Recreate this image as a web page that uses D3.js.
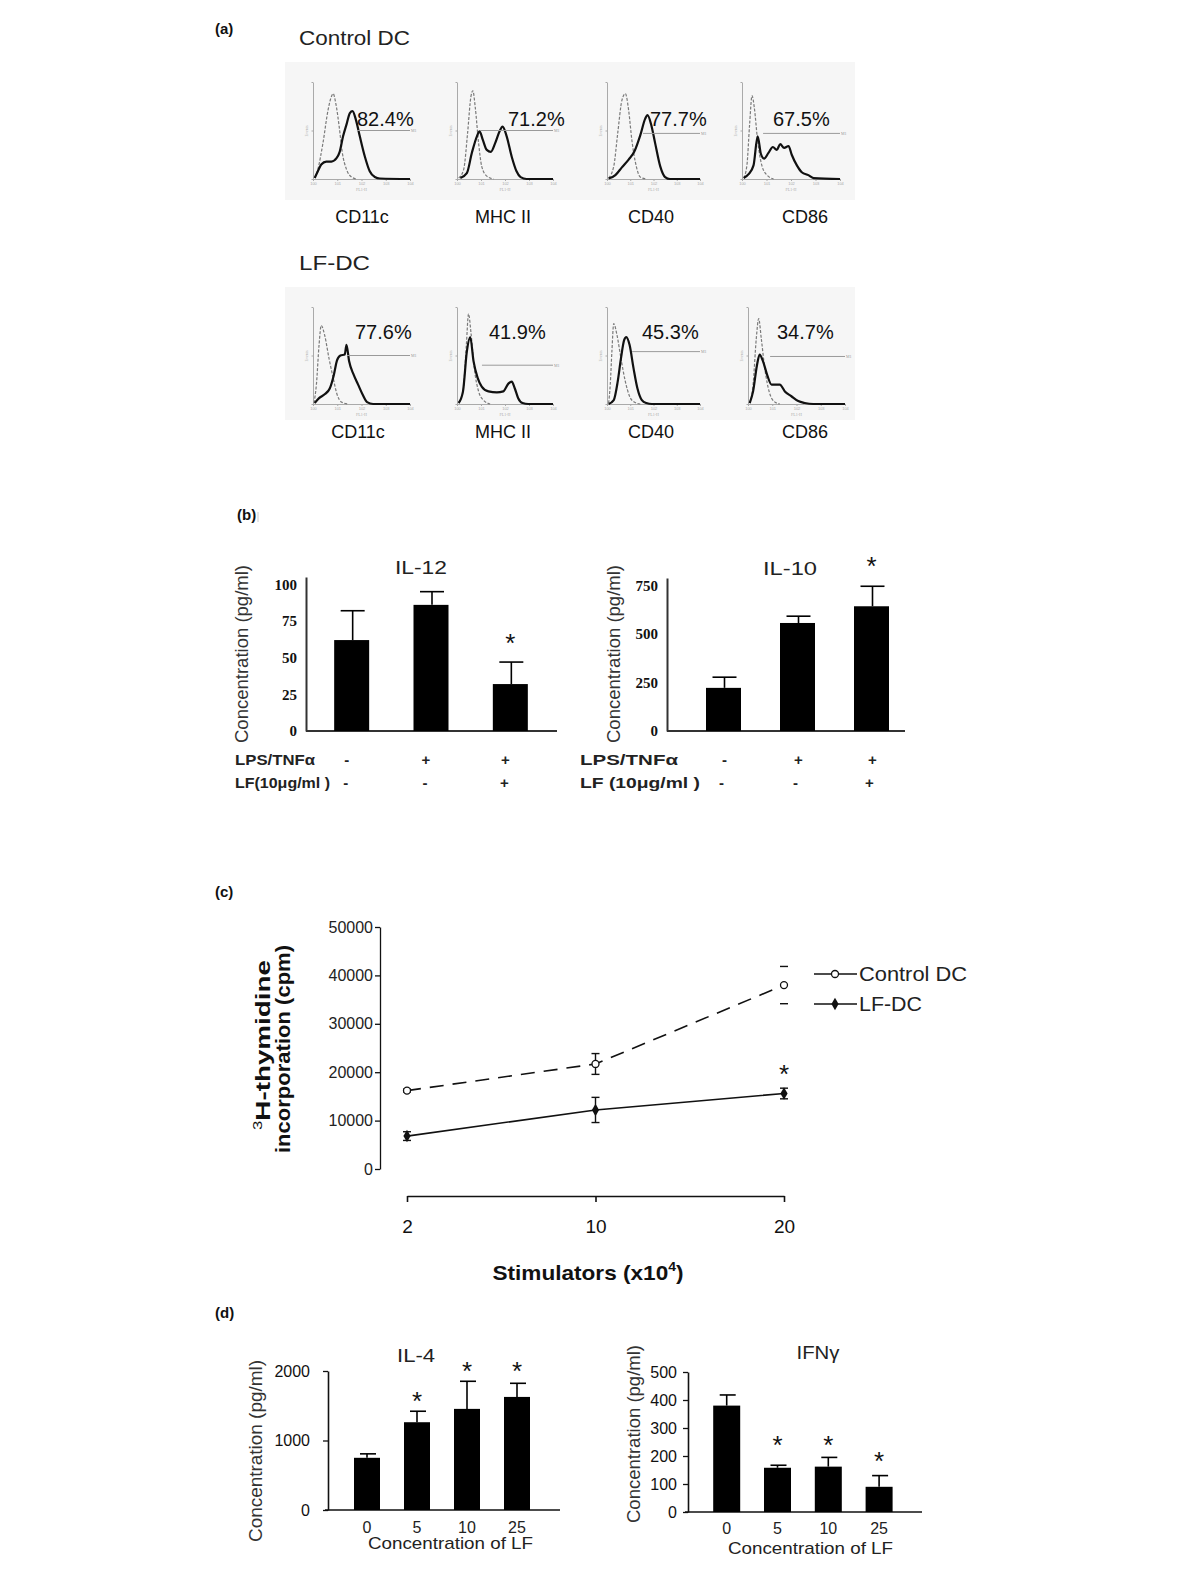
<!DOCTYPE html>
<html>
<head>
<meta charset="utf-8">
<script src="https://cdn.jsdelivr.net/npm/d3@7"></script>
<style>
  body { margin: 0; background: #fff; }
</style>
</head>
<body>
<script>
// ---------- panel (a): flow histograms, x in log decades (0-4), y in % of peak ----------
var markerNames = ["CD11c", "MHC II", "CD40", "CD86"];
var ctrlPercent = ["82.4%", "71.2%", "77.7%", "67.5%"];
var lfPercent = ["77.6%", "41.9%", "45.3%", "34.7%"];

var ctrlIso = [
    [[0.07,1],[0.2,10],[0.41,37],[0.62,71],[0.76,85],[0.83,88],[0.94,78],[1.08,54],[1.21,27],[1.38,10],[1.59,2],[1.8,0]],
    [[0.07,1],[0.28,10],[0.44,47],[0.58,85],[0.66,91],[0.76,74],[0.9,37],[1.03,13],[1.24,3],[1.52,0]],
    [[0.07,1],[0.29,13],[0.46,47],[0.64,81],[0.79,88],[0.93,71],[1.07,40],[1.26,13],[1.43,2],[1.71,0]],
    [[0.07,1],[0.2,14],[0.31,56],[0.41,86],[0.5,74],[0.64,39],[0.81,14],[1.02,4],[1.29,0]]
];
var ctrlStain = [
    [[0.07,1],[0.2,8],[0.34,15],[0.55,18],[0.76,18],[0.97,21.5],[1.1,28],[1.24,44],[1.38,56],[1.52,68],[1.63,70],[1.77,61],[1.93,44],[2.14,23],[2.34,8],[2.55,2],[2.76,0.5],[4,0]],
    [[0.14,1],[0.41,6],[0.62,27],[0.83,44],[0.94,49],[1.08,40],[1.24,30],[1.41,28],[1.59,37],[1.77,49],[1.9,54],[2.07,44],[2.28,23],[2.48,8],[2.65,2],[2.9,0],[4,0]],
    [[0.07,0.5],[0.36,4],[0.64,12],[0.93,20],[1.17,28],[1.43,45],[1.64,62],[1.74,66],[1.89,57],[2.07,37],[2.29,13],[2.5,2],[2.71,0],[4,0]],
    [[0.07,1],[0.27,5],[0.47,14],[0.64,44],[0.77,26],[0.9,21],[1.08,27],[1.26,33],[1.42,30],[1.56,36],[1.72,32],[1.9,34],[2.03,25],[2.24,14],[2.44,7],[2.71,4],[2.92,1],[4,0]]
];
var lfIso = [
    [[0.04,1],[0.14,20],[0.25,61],[0.34,81],[0.48,71],[0.66,47],[0.83,27],[0.99,10],[1.17,2],[1.45,0]],
    [[0.07,1],[0.25,13],[0.39,61],[0.48,93],[0.58,74],[0.72,37],[0.9,13],[1.1,4],[1.38,0]],
    [[0.07,1],[0.14,20],[0.21,54],[0.29,83],[0.43,71],[0.6,47],[0.79,23],[0.97,8],[1.17,2],[1.43,0]],
    [[0.07,1],[0.21,20],[0.34,67],[0.44,88],[0.55,67],[0.69,37],[0.87,13],[1.06,3],[1.31,0]]
];
var lfStain = [
    [[0.07,1],[0.25,6],[0.48,10],[0.69,16],[0.86,30],[0.99,45],[1.13,50],[1.31,51],[1.38,61],[1.49,44],[1.68,30],[1.86,20],[2.04,10],[2.23,2],[2.48,0],[4,0]],
    [[0.07,1],[0.25,13],[0.41,54],[0.55,69],[0.69,44],[0.86,27],[1.03,18],[1.31,13],[1.66,12],[1.93,13],[2.14,21],[2.28,23],[2.41,16],[2.55,6],[2.73,1],[2.97,0],[4,0]],
    [[0.07,0],[0.29,4],[0.46,23],[0.6,47],[0.74,66],[0.83,69],[0.97,61],[1.14,37],[1.31,16],[1.5,4],[1.69,1],[1.93,0],[4,0]],
    [[0.07,1],[0.21,13],[0.37,40],[0.48,51],[0.62,44],[0.79,30],[0.97,20],[1.14,20],[1.31,20],[1.52,13],[1.79,8],[2.07,3],[2.34,1],[2.69,0],[4,0]]
];
// gate marker: [start decade, height %]
var ctrlGate = [[1.81,50],[0.96,50],[1.55,47],[0.86,47]];
var lfGate = [[1.4,50],[1.04,40],[1.08,54],[0.91,49]];

// ---------- panel (b) ----------
var treatCats = ["ctrl", "lps", "lpslf"];
var lpsSigns = ["-", "+", "+"];
var lfSigns = ["-", "-", "+"];
var il12Mean = [62, 86, 32];
var il12Err = [20, 9, 15];
var il12Star = [null, null, 64];
var il12Ticks = [0, 25, 50, 75, 100];
var il10Mean = [222, 556, 642];
var il10Err = [55, 35, 103];
var il10Star = [null, null, 880];
var il10Ticks = [0, 250, 500, 750];

// ---------- panel (c) ----------
var stimulators = ["2", "10", "20"];
var ctrlCpm = [16200, 21700, 38000];
var ctrlCpmErr = [300, 2150, 3850];
var lfCpm = [6800, 12200, 15600];
var lfCpmErr = [900, 2600, 1100];
var lfCpmStar = [null, null, 20900];
var cpmTicks = [0, 10000, 20000, 30000, 40000, 50000];

// ---------- panel (d) ----------
var lfDoses = ["0", "5", "10", "25"];
var il4Mean = [751, 1263, 1455, 1627];
var il4Err = [57, 158, 397, 196];
var il4Star = [null, 1650, 2080, 2080];
var il4Ticks = [0, 1000, 2000];
var ifnMean = [380, 158, 162, 90];
var ifnErr = [38, 9, 33, 40];
var ifnStar = [null, 262, 262, 204];
var ifnTicks = [0, 100, 200, 300, 400, 500];

var SANS = "'Liberation Sans', Arial, Helvetica, sans-serif";
var SERIF = "'Liberation Serif', 'Times New Roman', serif";
var plain = d3.format("d");

var svg = d3.select("body").append("svg")
    .attr("width", 1200).attr("height", 1576)
    .style("display", "block").style("background", "#fff");

function addText(x, y, s, size, o) {
    o = o || {};
    var t = svg.append("text").attr("x", x).attr("y", y)
        .attr("font-family", o.family || SANS)
        .attr("font-size", size)
        .attr("font-weight", o.weight || "normal")
        .attr("text-anchor", o.anchor || "start")
        .attr("fill", o.fill || "#111");
    if (o.len) t.attr("textLength", o.len).attr("lengthAdjust", "spacingAndGlyphs");
    if (o.rotate) t.attr("transform", "rotate(-90," + x + "," + y + ")");
    t.text(s);
    return t;
}

// significance star centred on (x, y)
function star(x, y) {
    addText(x, y + 15, "*", 26, {anchor: "middle", fill: "#111"});
}

// panel letters
addText(215, 34, "(a)", 15, {weight: "bold"});
addText(237, 520, "(b)", 15, {weight: "bold"});
addText(215, 897, "(c)", 15, {weight: "bold"});
addText(215, 1318, "(d)", 15, {weight: "bold"});
svg.append("line").attr("x1", 258).attr("x2", 258).attr("y1", 512).attr("y2", 522)
    .attr("stroke", "#ccc").attr("stroke-width", 1);

/* ===================== (a) histograms ===================== */
addText(299, 45, "Control DC", 21, {fill: "#222", len: 111});
addText(299, 270, "LF-DC", 21, {fill: "#222", len: 71});

svg.append("rect").attr("x", 285).attr("y", 62).attr("width", 570).attr("height", 138).attr("fill", "#f6f6f6");
svg.append("rect").attr("x", 285).attr("y", 287).attr("width", 570).attr("height", 133).attr("fill", "#f6f6f6");

function histRow(top, base, cols, iso, stain, gates, pcts, pctX, pctBase, labelX, labelBase) {
    cols.forEach(function(c, i) {
        var x = d3.scaleLinear().domain([0, 4]).range(c);
        var y = d3.scaleLinear().domain([0, 100]).range([base, top]);
        var g = svg.append("g");

        var ax = g.append("g").attr("transform", "translate(0," + base + ")")
            .call(d3.axisBottom(x).tickValues([0, 1, 2, 3, 4]).tickSize(2).tickSizeOuter(0)
                .tickFormat(function(d) { return "10" + d; }));
        ax.select(".domain").attr("stroke", "#aaa");
        ax.selectAll(".tick line").attr("stroke", "#aaa");
        ax.selectAll(".tick text").attr("font-size", 4).attr("fill", "#aaa").attr("dy", "0.2em");

        var ay = g.append("g").attr("transform", "translate(" + c[0] + ",0)")
            .call(d3.axisLeft(y).tickValues([0, 50, 100]).tickSize(1.5).tickSizeOuter(0).tickFormat(""));
        ay.select(".domain").attr("stroke", "#aaa");
        ay.selectAll(".tick line").attr("stroke", "#aaa");

        g.append("text").attr("x", (c[0] + c[1]) / 2).attr("y", base + 12)
            .attr("text-anchor", "middle").attr("font-size", 4).attr("fill", "#aaa").text("FL1-H");
        g.append("text").attr("transform", "translate(" + (c[0] - 5) + "," + (base - 48) + ") rotate(-90)")
            .attr("text-anchor", "middle").attr("font-size", 4).attr("fill", "#aaa").text("Events");

        var line = d3.line()
            .x(function(d) { return x(d[0]); })
            .y(function(d) { return y(d[1]); })
            .curve(d3.curveMonotoneX);

        g.append("path").datum(iso[i]).attr("d", line)
            .attr("fill", "none").attr("stroke", "#7a7a7a").attr("stroke-width", 1.2)
            .attr("stroke-dasharray", "3,1.6");
        g.append("path").datum(stain[i]).attr("d", line)
            .attr("fill", "none").attr("stroke", "#111").attr("stroke-width", 2.2)
            .attr("stroke-linejoin", "round");

        // marker gate
        g.append("line").attr("x1", x(gates[i][0])).attr("x2", x(4))
            .attr("y1", y(gates[i][1])).attr("y2", y(gates[i][1]))
            .attr("stroke", "#9a9a9a").attr("stroke-width", 1);
        g.append("text").attr("x", x(4) + 1).attr("y", y(gates[i][1]) + 1.5)
            .attr("font-size", 4).attr("fill", "#999").text("M1");

        addText(pctX[i], pctBase, pcts[i], 20, {fill: "#111"});
        addText(labelX[i], labelBase, markerNames[i], 18, {anchor: "middle", fill: "#111"});
    });
}

histRow(82, 179, [[313, 410], [457, 553], [607, 700], [742, 840]],
    ctrlIso, ctrlStain, ctrlGate, ctrlPercent,
    [357, 508, 650, 773], 126, [362, 503, 651, 805], 223);
histRow(307, 404, [[313, 410], [457, 553], [607, 700], [748, 845]],
    lfIso, lfStain, lfGate, lfPercent,
    [355, 489, 642, 777], 339, [358, 503, 651, 805], 438);

/* ===================== bar chart helper ===================== */
function barChart(o) {
    var y = d3.scaleLinear().domain(o.yDomain).range([o.base, o.top]);
    var x = d3.scaleBand().domain(o.cats).range(o.band);
    var g = svg.append("g");

    var ay = g.append("g").attr("transform", "translate(" + o.axisX + ",0)")
        .call(d3.axisLeft(y).tickValues(o.ticks).tickFormat(plain)
            .tickSizeInner(o.tickLen).tickSizeOuter(0).tickPadding(o.pad));
    ay.select(".domain").attr("stroke", o.axisColor).attr("stroke-width", o.axisW);
    ay.selectAll(".tick line").attr("stroke", o.axisColor).attr("stroke-width", 1.3);
    ay.selectAll(".tick text")
        .attr("font-family", o.tickFamily).attr("font-size", o.tickSize)
        .attr("font-weight", o.tickWeight).attr("fill", "#111");

    g.append("line").attr("x1", o.axisX - o.xAxisLeft).attr("x2", o.xEnd)
        .attr("y1", o.base).attr("y2", o.base)
        .attr("stroke", o.axisColor).attr("stroke-width", o.axisW);

    var cx = function(i) { return x(o.cats[i]) + x.bandwidth() / 2; };

    g.selectAll("rect.bar").data(o.mean).enter().append("rect")
        .attr("class", "bar")
        .attr("x", function(d, i) { return cx(i) - o.barW / 2; })
        .attr("y", function(d) { return y(d); })
        .attr("width", o.barW)
        .attr("height", function(d) { return o.base - y(d); })
        .attr("fill", "#000");

    g.selectAll("line.err").data(o.mean).enter().append("line")
        .attr("class", "err")
        .attr("x1", function(d, i) { return cx(i) + o.stemDx; })
        .attr("x2", function(d, i) { return cx(i) + o.stemDx; })
        .attr("y1", function(d) { return y(d); })
        .attr("y2", function(d, i) { return y(d + o.err[i]); })
        .attr("stroke", "#000").attr("stroke-width", 1.6);
    g.selectAll("line.cap").data(o.mean).enter().append("line")
        .attr("class", "cap")
        .attr("x1", function(d, i) { return cx(i) + o.cap[0]; })
        .attr("x2", function(d, i) { return cx(i) + o.cap[1]; })
        .attr("y1", function(d, i) { return y(d + o.err[i]); })
        .attr("y2", function(d, i) { return y(d + o.err[i]); })
        .attr("stroke", "#000").attr("stroke-width", 1.6);

    o.star.forEach(function(s, i) {
        if (s == null) return;
        star(cx(i), y(s));
    });
    return cx;
}

/* ===================== (b) ===================== */
var il12cx = barChart({
    yDomain: [0, 105], base: 731, top: 577, ticks: il12Ticks, axisX: 306,
    tickLen: 0, pad: 9, tickFamily: SERIF, tickSize: 15, tickWeight: "bold",
    axisColor: "#333", axisW: 2, xAxisLeft: 0, xEnd: 557,
    cats: treatCats, band: [312, 550], barW: 35, mean: il12Mean, err: il12Err,
    stemDx: 1, cap: [-11, 13], star: il12Star
});
var il10cx = barChart({
    yDomain: [0, 787.5], base: 731, top: 578, ticks: il10Ticks, axisX: 667,
    tickLen: 0, pad: 9, tickFamily: SERIF, tickSize: 15, tickWeight: "bold",
    axisColor: "#333", axisW: 2, xAxisLeft: 0, xEnd: 905,
    cats: treatCats, band: [686.5, 908.5], barW: 35, mean: il10Mean, err: il10Err,
    stemDx: 1, cap: [-11, 13], star: il10Star
});

addText(421, 574, "IL-12", 19, {anchor: "middle", fill: "#222", len: 52});
addText(790, 575, "IL-10", 19, {anchor: "middle", fill: "#222", len: 54});
addText(247.5, 654, "Concentration (pg/ml)", 18, {anchor: "middle", fill: "#333", rotate: true, len: 178});
addText(619.5, 654, "Concentration (pg/ml)", 18, {anchor: "middle", fill: "#333", rotate: true, len: 178});

addText(235, 765, "LPS/TNFα", 14, {weight: "bold", fill: "#222", len: 80});
addText(235, 788, "LF(10μg/ml )", 14, {weight: "bold", fill: "#222", len: 95});
addText(580, 765, "LPS/TNFα", 14, {weight: "bold", fill: "#222", len: 98});
addText(580, 788, "LF (10μg/ml )", 14, {weight: "bold", fill: "#222", len: 120});
lpsSigns.forEach(function(s, i) {
    addText(il12cx(i) - 5, 765, s, 15, {anchor: "middle", weight: "bold", fill: "#222"});
    addText(il10cx(i) + 1, 765, s, 15, {anchor: "middle", weight: "bold", fill: "#222"});
});
lfSigns.forEach(function(s, i) {
    addText(il12cx(i) - 6, 788, s, 15, {anchor: "middle", weight: "bold", fill: "#222"});
    addText(il10cx(i) - 2, 788, s, 15, {anchor: "middle", weight: "bold", fill: "#222"});
});

/* ===================== (c) ===================== */
var xc = d3.scalePoint().domain(stimulators).range([407, 784]);
var yc = d3.scaleLinear().domain([0, 50000]).range([1169, 927]);

var ayc = svg.append("g").attr("transform", "translate(380,0)")
    .call(d3.axisLeft(yc).tickValues(cpmTicks).tickFormat(plain)
        .tickSizeInner(5).tickSizeOuter(0).tickPadding(2));
ayc.select(".domain").attr("stroke", "#111").attr("stroke-width", 1.3);
ayc.selectAll(".tick line").attr("stroke", "#111").attr("stroke-width", 1.3);
ayc.selectAll(".tick text").attr("font-family", SANS).attr("font-size", 16).attr("fill", "#222");

var axc = svg.append("g").attr("transform", "translate(0,1196)")
    .call(d3.axisBottom(xc).tickSizeInner(6).tickSizeOuter(0).tickPadding(18));
axc.select(".domain").attr("stroke", "#111").attr("stroke-width", 1.6);
axc.selectAll(".tick line").attr("stroke", "#111").attr("stroke-width", 1.6);
axc.selectAll(".tick text").attr("font-family", SANS).attr("font-size", 19).attr("fill", "#111");

var stimT = addText(588, 1280, "", 21, {anchor: "middle", weight: "bold", fill: "#111", len: 191});
stimT.append("tspan").text("Stimulators (x10");
stimT.append("tspan").attr("font-size", 13).attr("dy", -9).text("4");
stimT.append("tspan").attr("dy", 9).text(")");

var yt1 = addText(270, 1045, "", 20, {anchor: "middle", weight: "bold", fill: "#111", rotate: true, len: 170});
yt1.append("tspan").attr("font-size", 12).attr("dy", -8).attr("font-weight", "normal").text("3");
yt1.append("tspan").attr("dy", 8).text("H-thymidine");
addText(290, 1049, "incorporation (cpm)", 20, {anchor: "middle", weight: "bold", fill: "#111", rotate: true, len: 208});

var lineC = d3.line()
    .x(function(d, i) { return xc(stimulators[i]); })
    .y(function(d) { return yc(d); });

svg.append("path").datum(ctrlCpm).attr("d", lineC)
    .attr("fill", "none").attr("stroke", "#111").attr("stroke-width", 1.6)
    .attr("stroke-dasharray", "14,9");
svg.append("path").datum(lfCpm).attr("d", lineC)
    .attr("fill", "none").attr("stroke", "#111").attr("stroke-width", 1.6);

// error bars; the last Control DC point only shows its caps
var ctrlErrStem = [true, true, false];
function errBars(vals, errs, stems, capW) {
    vals.forEach(function(v, i) {
        var x = xc(stimulators[i]);
        if (stems[i]) {
            svg.append("line").attr("x1", x).attr("x2", x)
                .attr("y1", yc(v - errs[i])).attr("y2", yc(v + errs[i]))
                .attr("stroke", "#111").attr("stroke-width", 1.4);
        }
        [v - errs[i], v + errs[i]].forEach(function(e) {
            svg.append("line").attr("x1", x - capW).attr("x2", x + capW)
                .attr("y1", yc(e)).attr("y2", yc(e))
                .attr("stroke", "#111").attr("stroke-width", 1.4);
        });
    });
}
errBars(ctrlCpm, ctrlCpmErr, ctrlErrStem, 4);
errBars(lfCpm, lfCpmErr, [true, true, true], 4);

svg.selectAll("circle.ctrl").data(ctrlCpm).enter().append("circle")
    .attr("cx", function(d, i) { return xc(stimulators[i]); })
    .attr("cy", function(d) { return yc(d); })
    .attr("r", 3.5).attr("fill", "#fff").attr("stroke", "#111").attr("stroke-width", 1.3);
var diamond = d3.symbol().type(d3.symbolDiamond).size(45);
svg.selectAll("path.lf").data(lfCpm).enter().append("path")
    .attr("d", diamond)
    .attr("transform", function(d, i) { return "translate(" + xc(stimulators[i]) + "," + yc(d) + ")"; })
    .attr("fill", "#111");
lfCpmStar.forEach(function(s, i) {
    if (s == null) return;
    star(xc(stimulators[i]), yc(s));
});

// legend
svg.append("line").attr("x1", 814).attr("x2", 857).attr("y1", 974).attr("y2", 974)
    .attr("stroke", "#111").attr("stroke-width", 1.6);
svg.append("circle").attr("cx", 835).attr("cy", 974).attr("r", 3.5)
    .attr("fill", "#fff").attr("stroke", "#111").attr("stroke-width", 1.3);
svg.append("line").attr("x1", 814).attr("x2", 857).attr("y1", 1004).attr("y2", 1004)
    .attr("stroke", "#111").attr("stroke-width", 1.6);
svg.append("path").attr("d", diamond).attr("transform", "translate(835,1004)").attr("fill", "#111");
addText(859, 981, "Control DC", 21, {fill: "#222", len: 108});
addText(859, 1011, "LF-DC", 21, {fill: "#222", len: 63});

/* ===================== (d) ===================== */
var il4cx = barChart({
    yDomain: [0, 2000], base: 1510, top: 1371, ticks: il4Ticks, axisX: 328,
    tickLen: 5, pad: 13, tickFamily: SANS, tickSize: 16, tickWeight: "normal",
    axisColor: "#111", axisW: 1.6, xAxisLeft: 3, xEnd: 560,
    cats: lfDoses, band: [342, 542], barW: 26, mean: il4Mean, err: il4Err,
    stemDx: 0, cap: [-7, 9], star: il4Star
});
var ifncx = barChart({
    yDomain: [0, 500], base: 1512, top: 1372, ticks: ifnTicks, axisX: 688,
    tickLen: 5, pad: 6, tickFamily: SANS, tickSize: 16, tickWeight: "normal",
    axisColor: "#111", axisW: 1.6, xAxisLeft: 3, xEnd: 922,
    cats: lfDoses, band: [701.3, 904.5], barW: 27, mean: ifnMean, err: ifnErr,
    stemDx: 0, cap: [-7, 9], star: ifnStar
});

lfDoses.forEach(function(s, i) {
    addText(il4cx(i), 1533, s, 16, {anchor: "middle", fill: "#222"});
    addText(ifncx(i), 1534, s, 16, {anchor: "middle", fill: "#222"});
});
addText(368, 1549, "Concentration of  LF", 17, {fill: "#222", len: 165});
addText(728, 1554, "Concentration of  LF", 17, {fill: "#222", len: 165});
addText(416, 1362, "IL-4", 19, {anchor: "middle", fill: "#222", len: 38});
addText(818, 1359, "IFNγ", 19, {anchor: "middle", fill: "#222", len: 43});
addText(261.5, 1451, "Concentration (pg/ml)", 18, {anchor: "middle", fill: "#333", rotate: true, len: 182});
addText(639.5, 1434, "Concentration (pg/ml)", 18, {anchor: "middle", fill: "#333", rotate: true, len: 178});
</script>
</body>
</html>
